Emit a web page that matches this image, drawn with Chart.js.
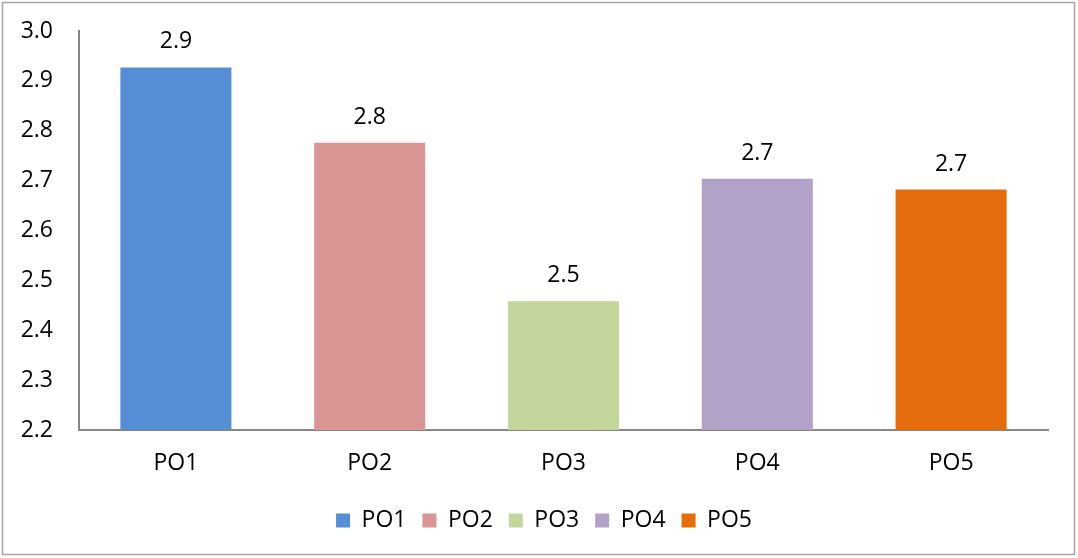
<!DOCTYPE html>
<html><head><meta charset="utf-8">
<script src="https://cdn.jsdelivr.net/npm/chart.js@4"></script>
<style>html,body{margin:0;padding:0;background:#fff;}#wrap{width:1078px;height:558px;position:relative;}</style>
</head><body><div id="wrap"><canvas id="c" width="1078" height="558"></canvas></div>
<script>
const categories = ["PO1","PO2","PO3","PO4","PO5"];
const values = [2.927, 2.776, 2.458, 2.704, 2.682];
const valueLabels = ["2.9","2.8","2.5","2.7","2.7"];
const yTicks = [2.2,2.3,2.4,2.5,2.6,2.7,2.8,2.9,3.0];
const colors = ["#558ED5","#D99694","#C3D69B","#B3A2C7","#E46C0A"];
const FONT = "'Open Sans', sans-serif";
const FS = 23;

const borderPlugin = {
  id:'border',
  afterDraw(chart){
    const ctx = chart.ctx; ctx.save();
    ctx.strokeStyle = '#a6a6a6'; ctx.lineWidth = 1.5;
    ctx.strokeRect(2.5,2.5,1072,552);
    ctx.restore();
  }
};
const legendShift = {
  id:'legendShift',
  afterLayout(chart){
    if (chart.legend) { chart.legend.left += 20; chart.legend.right += 20; }
  }
};
const labelPlugin = {
  id:'vlabels',
  afterDatasetsDraw(chart){
    const ctx = chart.ctx; const meta = chart.getDatasetMeta(0);
    ctx.save(); ctx.fillStyle='#000'; ctx.font = FS + "px " + FONT;
    ctx.textAlign='center'; ctx.textBaseline='alphabetic';
    meta.data.forEach((bar,i)=>{ ctx.fillText(valueLabels[i], bar.x, bar.y - 19); });
    ctx.restore();
  }
};
new Chart(document.getElementById('c'), {
  type:'bar',
  data:{ labels:categories, datasets:[{ data:values, backgroundColor:colors, borderWidth:0, barPercentage:0.573, categoryPercentage:1 }]},
  options:{
    responsive:false, animation:false, devicePixelRatio:1,
    layout:{ padding:{ left:0, right:30, top:31, bottom:16 } },
    plugins:{
      tooltip:{enabled:false},
      legend:{ position:'bottom',
        labels:{ font:{size:FS, family:FONT}, color:'#000', boxWidth:14, boxHeight:14, padding:16,
          generateLabels(chart){ return categories.map((c,i)=>({text:c, fillStyle:colors[i], strokeStyle:colors[i], lineWidth:0, hidden:false, index:i})); } },
        onClick:()=>{}
      }
    },
    scales:{
      x:{ grid:{display:false, drawTicks:false}, border:{display:true, color:'#868686', width:2},
          ticks:{ font:{size:FS, family:FONT}, color:'#000', padding:20 },
          afterFit(s){ s.height = 63; s.paddingLeft = 0; s.paddingRight = 0; } },
      y:{ min:2.2, max:3.0, grid:{display:false, drawTicks:false}, border:{display:true, color:'#868686', width:2},
          afterBuildTicks(s){ s.ticks = yTicks.map(v=>({value:v})); },
          ticks:{ font:{size:FS, family:FONT}, color:'#000', padding:26, callback:(v)=>Number(v).toFixed(1) },
          afterFit(s){ s.width = 79; s.paddingTop = 0; s.paddingBottom = 0; } }
    }
  },
  plugins:[borderPlugin, legendShift, labelPlugin]
});
</script></body></html>
